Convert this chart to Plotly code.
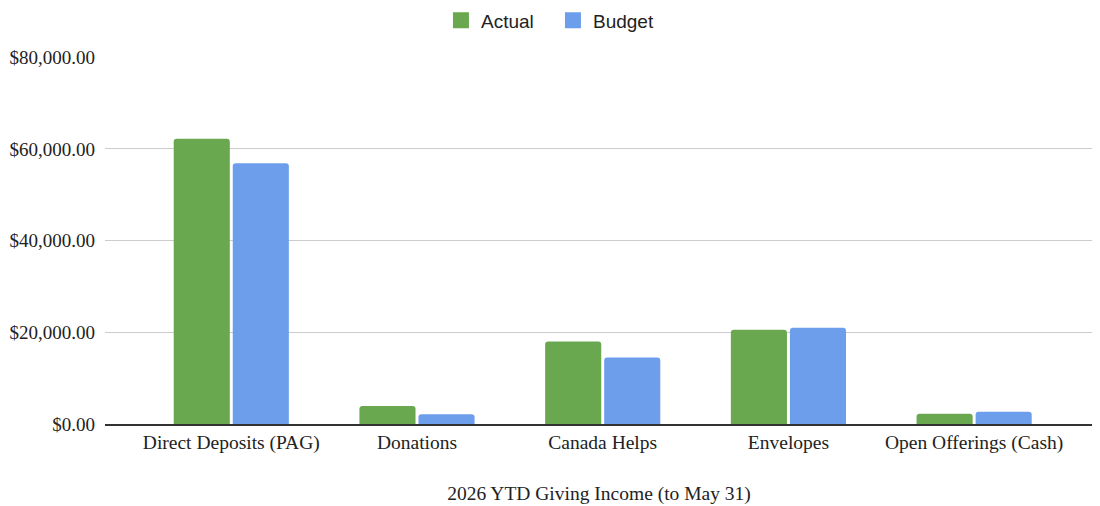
import plotly.graph_objects as go

categories = ["Direct Deposits (PAG)", "Donations", "Canada Helps", "Envelopes", "Open Offerings (Cash)"]
actual = [62200, 3900, 18000, 20550, 2250]
budget = [56900, 2100, 14500, 21000, 2650]
y_ticks = [0, 20000, 40000, 60000, 80000]
x_title = "2026 YTD Giving Income (to May 31)"
series_names = ["Actual", "Budget"]
series_colors = ["#6aa84f", "#6d9eeb"]

fig = go.Figure()
for name, vals, col in zip(series_names, [actual, budget], series_colors):
    fig.add_trace(go.Bar(x=categories, y=vals, name=name, marker_color=col, marker_line_width=0,
                         legendgroup=name, showlegend=False))
for name, col in zip(series_names, series_colors):
    fig.add_trace(go.Scatter(x=[None], y=[None], mode="markers", name=name, legendgroup=name,
                             marker=dict(symbol="square", size=16, color=col)))

serif = "Liberation Serif"
fig.update_layout(
    width=1092, height=498,
    margin=dict(l=97, r=7, t=49, b=82, autoexpand=False),
    paper_bgcolor="white", plot_bgcolor="white",
    barmode="group", bargap=0.364, bargroupgap=0.05, barcornerradius=3,
    legend=dict(orientation="h", x=0.4534, xanchor="center", y=0.975, yanchor="middle",
                yref="container", entrywidth=67, itemsizing="trace",
                font=dict(family="Liberation Sans", size=19, color="#222")),
    xaxis=dict(range=[-0.68, 4.64], showgrid=False, showline=True, linecolor="#333", linewidth=2,
               automargin=False,
               tickfont=dict(family=serif, size=19.5, color="#222"), ticks="",
               title=dict(text=x_title, font=dict(family=serif, size=19.5, color="#222"), standoff=33)),
    yaxis=dict(range=[0, 80050], tickvals=y_ticks, tickformat="$,.2f", showgrid=True,
               automargin=False,
               gridcolor="#cccccc", gridwidth=1, zeroline=False, showline=False,
               tickfont=dict(family=serif, size=19, color="#222"), ticklabelstandoff=9),
)
fig.write_html("out.html")
